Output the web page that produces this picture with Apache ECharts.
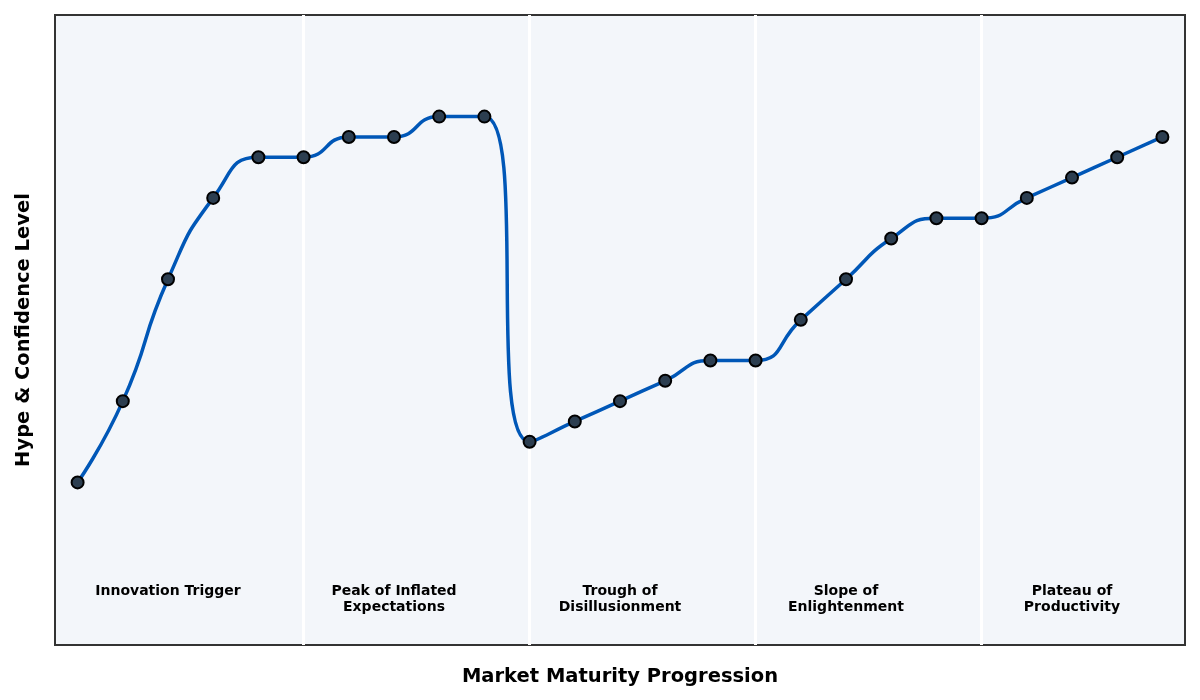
<!DOCTYPE html>
<html>
<head>
<meta charset="utf-8">
<script src="https://cdn.jsdelivr.net/npm/echarts@6/dist/echarts.min.js"></script>
<style>html,body{margin:0;padding:0;background:#fff;}#c{width:1200px;height:700px;}</style>
</head>
<body>
<div id="c"></div>
<script>
const steps = [0,1,2,3,4,5,6,7,8,9,10,11,12,13,14,15,16,17,18,19,20,21,22,23,24];
const hype = [40,60,90,110,120,120,125,125,130,130,50,55,60,65,70,70,80,90,100,105,105,110,115,120,125];
const phaseBoundaries = [5,10,15,20];
const phaseNames = ['Innovation Trigger','Peak of Inflated\nExpectations','Trough of\nDisillusionment','Slope of\nEnlightenment','Plateau of\nProductivity'];
const phaseCenters = [2,7,12,17,22];

const FONT = 'DejaVu Sans';
const chart = echarts.init(document.getElementById('c'), null, {renderer:'canvas'});
chart.setOption({
  backgroundColor:'#ffffff',
  animation:false,
  grid:{left:55,right:15,top:15,bottom:55,show:true,backgroundColor:'#f3f6fa',borderColor:'#333333',borderWidth:2},
  xAxis:{type:'value',min:-0.5,max:24.5,
    name:'Market Maturity Progression',nameLocation:'middle',nameGap:22,
    nameTextStyle:{fontFamily:FONT,fontSize:19.5,fontWeight:'bold',color:'#000',verticalAlign:'top'},
    axisLine:{show:false},axisTick:{show:false},axisLabel:{show:false},splitLine:{show:false}},
  yAxis:{type:'value',min:0,max:155,
    name:'Hype & Confidence Level',nameLocation:'middle',nameGap:21,
    nameTextStyle:{fontFamily:FONT,fontSize:19.5,fontWeight:'bold',color:'#000',verticalAlign:'bottom'},
    axisLine:{show:false},axisTick:{show:false},axisLabel:{show:false},splitLine:{show:false}},
  series:[
    {type:'line',data:steps.map((s,i)=>[s,hype[i]]),smooth:0.55,
     lineStyle:{color:'#0057b7',width:3.5},
     symbol:'circle',symbolSize:12,
     itemStyle:{color:'#2c3e50',borderColor:'#000',borderWidth:2},
     z:5,
     markLine:{silent:true,symbol:'none',label:{show:false},
       lineStyle:{color:'#ffffff',width:3,type:'solid'},
       data:phaseBoundaries.map(b=>({xAxis:b}))}},
    {type:'scatter',symbol:'circle',symbolSize:1,silent:true,
     itemStyle:{color:'rgba(0,0,0,0)',opacity:1},
     data:phaseCenters.map((c,i)=>({value:[c,15.3],name:phaseNames[i]})),
     label:{show:true,position:'bottom',distance:0,formatter:p=>p.name,opacity:1,
       fontFamily:FONT,fontSize:14,fontWeight:'bold',color:'#000',textBorderWidth:0,lineHeight:16,align:'center'}}
  ]
});
</script>
</body>
</html>
